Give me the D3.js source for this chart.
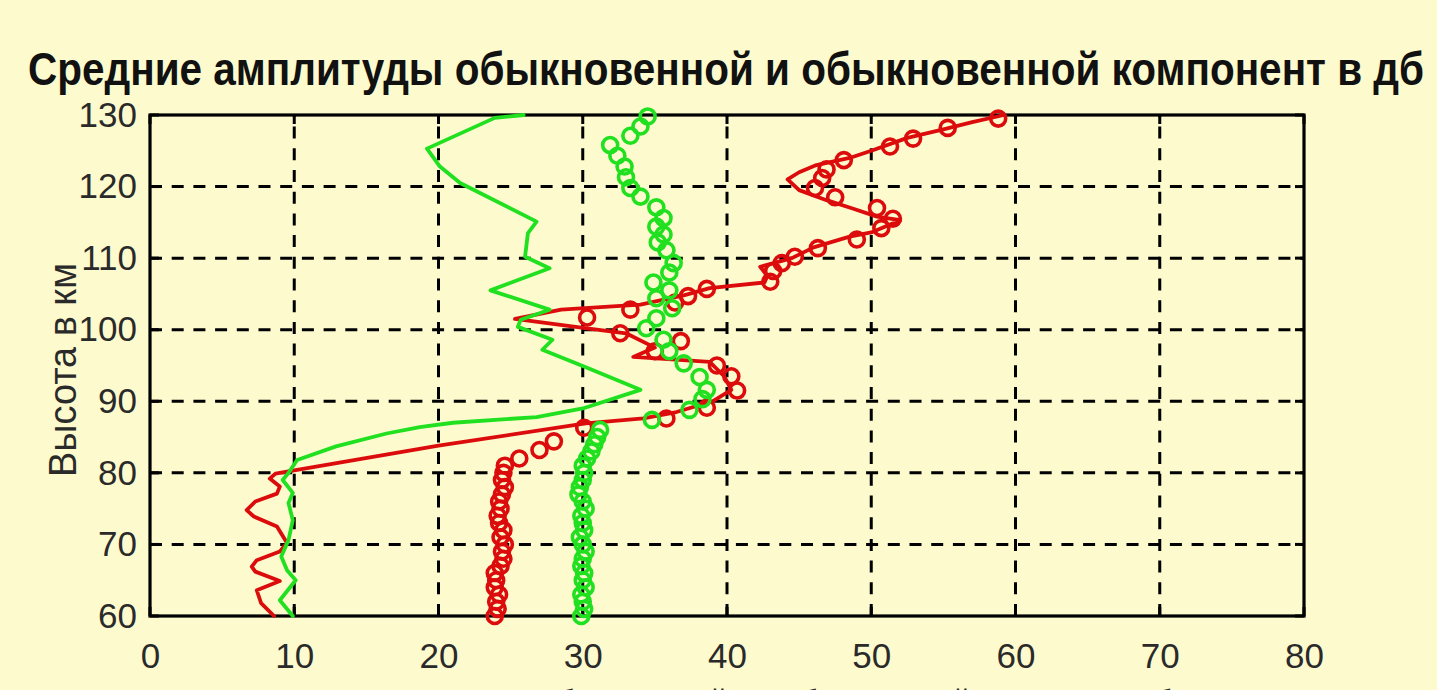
<!DOCTYPE html>
<html>
<head>
<meta charset="utf-8">
<script src="https://cdn.jsdelivr.net/npm/d3@7"></script>
<style>
  html, body { margin: 0; padding: 0; background: #fdfbce; overflow: hidden; }
  svg { display: block; }
</style>
</head>
<body>
<svg id="chart" width="1437" height="690"></svg>
<script>
// Axis ticks
const xTicks = [0, 10, 20, 30, 40, 50, 60, 70, 80];
const yTicks = [60, 70, 80, 90, 100, 110, 120, 130];

// Red line (height in km, amplitude in dB)
const redLineKm = [60, 61.8, 63.6, 64.9, 66.2, 66.9, 67.8, 69.0, 70.2, 72.5, 73.9, 74.8, 76.0, 77.1, 78.1, 79.2, 79.9, 80.4, 83.8, 86.9,
  87.6, 88.5, 90.0, 91.6, 93.5, 95.5, 96.2, 97.5, 99.5, 100.2, 101.5, 102.8, 103.5, 104.8, 105.8, 106.6, 107.5, 108.8, 110.0, 111.5,
  113.0, 113.6, 115.3, 115.8, 117.0, 118.1, 119.5, 121.0, 122.0, 123.0, 124.0, 125.0, 126.8, 128.0, 129.0, 130.0];
const redLineDb = [8.6, 7.7, 7.4, 9.0, 7.3, 7.05, 7.4, 9.0, 9.5, 8.8, 7.2, 6.7, 7.3, 8.8, 9.0, 8.3, 8.7, 10.2, 20.0, 30.2,
  34.2, 36.5, 39.0, 40.3, 39.8, 38.8, 33.5, 35.0, 33.0, 30.3, 25.3, 28.5, 34.0, 37.0, 38.8, 42.6, 42.8, 42.3, 44.5, 46.0,
  48.5, 50.0, 52.0, 50.4, 48.6, 46.9, 45.0, 44.2, 45.0, 46.2, 48.5, 50.0, 52.5, 55.0, 57.0, 59.2];

// Red circles
const redDotKm = [60, 61, 62, 63, 64, 65, 66, 67, 68, 69, 70, 71, 72, 73, 74, 75, 76, 77, 78, 79, 80, 81, 82,
  83.2, 84.4, 86.3, 87.6, 89.1, 91.5, 93.5, 95.0, 97.0, 98.4, 99.5, 101.7, 102.8, 103.8, 104.7, 105.7, 106.7, 108.2, 109.3,
  110.2, 111.4, 112.6, 114.2, 115.5, 117.0, 118.5, 119.8, 121.2, 122.4, 123.7, 125.6, 126.7, 128.2, 129.5];
const redDotDb = [23.9, 24.1, 24.0, 24.2, 23.9, 24.0, 23.9, 24.3, 24.5, 24.4, 24.6, 24.3, 24.5, 24.2, 24.1, 24.3, 24.2, 24.4, 24.6, 24.4, 24.5, 24.6, 25.6,
  27.0, 28.0, 30.1, 35.8, 38.6, 40.7, 40.3, 39.3, 35.0, 36.8, 32.6, 30.3, 33.3, 36.4, 37.3, 38.6, 43.0, 43.2, 43.8,
  44.7, 46.3, 49.0, 50.7, 51.5, 50.4, 47.5, 46.1, 46.6, 46.9, 48.1, 51.3, 52.9, 55.3, 58.8];

// Green line
const greenLineKm = [60, 62.2, 65.0, 66.4, 68.3, 70.6, 73.4, 75.8, 77.2, 79.0, 80.0, 81.8, 83.7, 85.5, 86.4, 87.0, 87.8, 89.0, 91.6, 94.7,
  97.2, 98.6, 100.4, 101.4, 102.8, 105.5, 108.6, 110.2, 113.5, 115.1, 120.5, 122.8, 125.3, 129.6, 130.0];
const greenLineDb = [9.9, 9.0, 10.1, 9.5, 9.1, 9.6, 9.9, 9.6, 9.9, 9.2, 9.6, 10.2, 12.9, 16.4, 18.7, 21.0, 26.8, 30.0, 34.0, 30.3,
  27.2, 27.9, 25.5, 25.7, 27.7, 23.6, 27.7, 26.0, 26.2, 26.8, 21.5, 20.1, 19.2, 23.9, 25.9];

// Green circles
const greenDotKm = [60, 61, 62, 63, 64, 65, 66, 67, 68, 69, 70, 71, 72, 73, 74, 75, 76, 77, 78, 79, 80, 81, 82, 83, 84, 85, 86,
  87.4, 88.8, 90.3, 91.6, 93.4, 95.3, 97.0, 98.6, 100.2, 101.6, 103.0, 104.4, 105.5, 106.6, 108.0, 109.3, 111.1, 112.2, 113.3,
  114.4, 115.6, 117.1, 118.6, 119.8, 121.3, 122.8, 124.3, 125.8, 127.1, 128.4, 129.8];
const greenDotDb = [29.9, 30.1, 30.0, 29.9, 30.2, 30.0, 30.1, 29.9, 30.0, 30.2, 30.0, 29.8, 30.1, 30.0, 29.9, 30.2, 30.0, 29.7, 29.8, 30.0, 30.1, 30.0, 30.3, 30.6, 30.8, 31.0, 31.2,
  34.8, 37.4, 38.3, 38.6, 38.1, 37.0, 36.0, 35.6, 34.4, 35.1, 36.2, 35.1, 36.0, 34.9, 36.0, 36.3, 35.8, 35.2, 35.6,
  35.1, 35.6, 35.1, 34.0, 33.3, 33.0, 32.9, 32.4, 31.9, 33.3, 34.0, 34.5];

const titleText = "Средние амплитуды обыкновенной и обыкновенной компонент в дб";
const xLabelText = "Средняя амплитуда обыкновенной и необыкновенной компонент в дб";
const yLabelText = "Высота в км";

const zip = (ks, vs) => ks.map((k, i) => ({ km: k, db: vs[i] }));

const svg = d3.select("#chart");
const bg = "#fdfbce";
const RED = "#dc0c0c";
const GREEN = "#20e020";
const FONT = "'Liberation Sans', Arial, sans-serif";

svg.append("rect").attr("width", 1437).attr("height", 690).attr("fill", bg);

const plotL = 150, plotR = 1304, plotT = 115, plotB = 616;
const x = d3.scaleLinear().domain([0, 80]).range([plotL, plotR]);
const y = d3.scaleLinear().domain([60, 130]).range([plotB, plotT]);

// Title
svg.append("text")
  .attr("x", 726).attr("y", 85)
  .attr("text-anchor", "middle")
  .attr("font-family", FONT).attr("font-weight", "bold").attr("font-size", 47)
  .attr("textLength", 1396).attr("lengthAdjust", "spacingAndGlyphs")
  .attr("fill", "#111")
  .text(titleText);

// Dashed grid
const grid = svg.append("g").attr("stroke", "#000").attr("stroke-width", 3)
  .attr("stroke-dasharray", "12,9.7").attr("fill", "none");
xTicks.slice(1, -1).forEach(t => {
  grid.append("path").attr("d", d3.line()([[x(t), plotB], [x(t), plotT]]));
});
yTicks.slice(1, -1).forEach(t => {
  grid.append("path").attr("d", d3.line()([[plotL, y(t)], [plotR, y(t)]]));
});

// Axes with labels
const tickStyle = g => {
  g.select(".domain").remove();
  g.selectAll("line").remove();
  g.selectAll("text").attr("font-family", FONT).attr("font-size", 35).attr("fill", "#2a2a2a");
};
svg.append("g").attr("transform", `translate(${plotL},0)`)
  .call(d3.axisLeft(y).tickValues(yTicks).tickSize(0).tickPadding(13).tickFormat(d3.format("d")))
  .call(tickStyle);
svg.append("g").attr("transform", `translate(0,${plotB})`)
  .call(d3.axisBottom(x).tickValues(xTicks).tickSize(0).tickPadding(27).tickFormat(d3.format("d")))
  .call(tickStyle);

// Inward tick marks on all four sides
const ticks = svg.append("g").attr("stroke", "#000").attr("stroke-width", 3);
const tl = 9;
xTicks.forEach(t => {
  ticks.append("line").attr("x1", x(t)).attr("x2", x(t)).attr("y1", plotB).attr("y2", plotB - tl);
  ticks.append("line").attr("x1", x(t)).attr("x2", x(t)).attr("y1", plotT).attr("y2", plotT + tl);
});
yTicks.forEach(t => {
  ticks.append("line").attr("x1", plotL).attr("x2", plotL + tl).attr("y1", y(t)).attr("y2", y(t));
  ticks.append("line").attr("x1", plotR).attr("x2", plotR - tl).attr("y1", y(t)).attr("y2", y(t));
});

// Frame
svg.append("rect")
  .attr("x", plotL).attr("y", plotT).attr("width", plotR - plotL).attr("height", plotB - plotT)
  .attr("fill", "none").attr("stroke", "#000").attr("stroke-width", 3.2);

// Axis titles
svg.append("text")
  .attr("transform", `translate(76,370) rotate(-90)`)
  .attr("text-anchor", "middle")
  .attr("font-family", FONT).attr("font-size", 39)
  .attr("textLength", 214).attr("lengthAdjust", "spacingAndGlyphs")
  .attr("fill", "#2a2a2a")
  .text(yLabelText);

svg.append("text")
  .attr("x", 727).attr("y", 716)
  .attr("text-anchor", "middle")
  .attr("font-family", FONT).attr("font-size", 36)
  .attr("textLength", 890).attr("lengthAdjust", "spacingAndGlyphs")
  .attr("fill", "#2a2a2a")
  .text(xLabelText);

// Series
const line = d3.line().x(d => x(d.db)).y(d => y(d.km));

const drawLine = (data, color) => svg.append("path")
  .datum(data).attr("d", line)
  .attr("fill", "none").attr("stroke", color).attr("stroke-width", 3.8)
  .attr("stroke-linejoin", "round").attr("stroke-linecap", "round");

const drawDots = (data, color) => svg.append("g")
  .selectAll("circle").data(data).join("circle")
  .attr("cx", d => x(d.db)).attr("cy", d => y(d.km)).attr("r", 7.5)
  .attr("fill", "none").attr("stroke", color).attr("stroke-width", 3.6);

drawLine(zip(redLineKm, redLineDb), RED);
drawDots(zip(redDotKm, redDotDb), RED);
drawLine(zip(greenLineKm, greenLineDb), GREEN);
drawDots(zip(greenDotKm, greenDotDb), GREEN);
</script>
</body>
</html>
